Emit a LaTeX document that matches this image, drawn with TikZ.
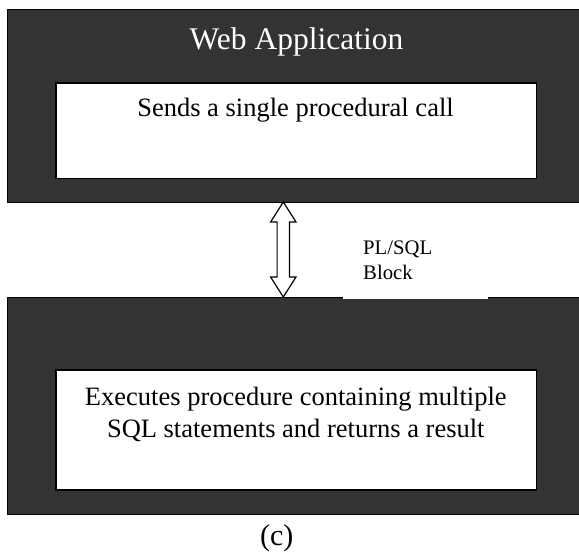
\documentclass[tikz,border=0pt]{standalone}
\usepackage{fontspec}
\setmainfont{Liberation Serif}
\usetikzlibrary{calc}
\definecolor{darkfill}{RGB}{51,51,51}
\tikzset{
  outerbox/.style={draw=black, line width=1pt, fill=darkfill, inner sep=0pt, anchor=north west},
  innerbox/.style={draw=black, line width=1.5pt, fill=white, inner sep=0pt, anchor=north west},
  blockarrow/.style={draw=black, line width=1.2pt, fill=white, line join=miter},
  titletext/.style={text=white, font=\fontsize{31.5}{36}\selectfont, anchor=base, inner sep=0pt},
  bodytext/.style={text=black, font=\fontsize{26.5}{32}\selectfont, anchor=base, inner sep=0pt, align=center},
  labeltext/.style={text=black, font=\fontsize{20.7}{25}\selectfont, anchor=base west, inner sep=0pt, align=left},
  captiontext/.style={text=black, font=\fontsize{30}{34}\selectfont, anchor=base, inner sep=0pt}
}
\begin{document}
\begin{tikzpicture}[x=1pt, y=-1pt]
\useasboundingbox (0,0) rectangle (579,554);
% top box
\node[outerbox, minimum width=580pt, minimum height=192.7pt] (top) at (6.5,9) {};
\node[titletext] (webapp) at (296.5,49.3) {Web Application};
\node[innerbox, minimum width=480.7pt, minimum height=95.5pt] (topin) at (55,82) {};
\node[bodytext] (sends) at (295.5,116) {Sends a single procedural call};
% bottom box
\node[outerbox, minimum width=580pt, minimum height=216.7pt] (bot) at (6.5,297.3) {};
\node[innerbox, minimum width=480.7pt, minimum height=119.7pt] (botin) at (55,369.3) {};
\node[bodytext] (exec) at (295.8,437) {Executes procedure containing multiple\\SQL statements and returns a result};
% label with white background
\fill[white] (343,228) rectangle (488,298.6);
\node[labeltext] (plsql) at (363,279) {PL/SQL\\Block};
% double block arrow
\coordinate (atop) at (283.3,202);
\coordinate (abot) at (283.3,297);
\draw[blockarrow] (atop) -- ($(atop)+(12.7,20)$) -- ($(atop)+(6.2,20)$) -- ($(abot)+(6.2,-20)$)
  -- ($(abot)+(12.7,-20)$) -- (abot) -- ($(abot)+(-12.7,-20)$) -- ($(abot)+(-6.2,-20)$)
  -- ($(atop)+(-6.2,20)$) -- ($(atop)+(-12.7,20)$) -- cycle;
% caption
\node[captiontext] (cap) at (276.7,545) {(c)};
\end{tikzpicture}
\end{document}
